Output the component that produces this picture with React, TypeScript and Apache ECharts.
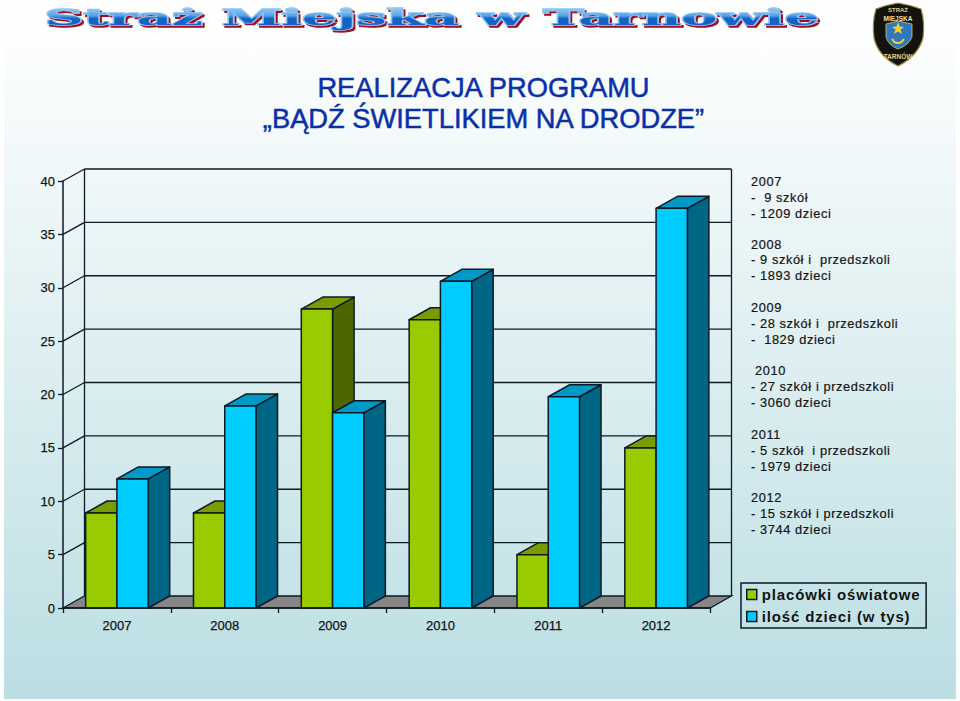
import React, { useEffect, useRef } from "react";
import * as echarts from "echarts";

const years = ["2007", "2008", "2009", "2010", "2011", "2012"];
const schools = [8.9, 8.9, 28, 27, 5, 15];
const children = [12.09, 18.93, 18.29, 30.6, 19.79, 37.44];
const yTicks = [0, 5, 10, 15, 20, 25, 30, 35, 40];
const seriesNames = ["placówki oświatowe", "ilość dzieci (w tys)"];
const titleLines = ["REALIZACJA PROGRAMU", "„BĄDŹ ŚWIETLIKIEM NA DRODZE”"];
const bannerText = "Straż Miejska w Tarnowie";
const noteLines: [string, number, number][] = [
  ["2007", 751, 181], ["-  9 szkół", 751, 197], ["- 1209 dzieci", 751, 213],
  ["2008", 751, 244], ["- 9 szkół i  przedszkoli", 751, 259], ["- 1893 dzieci", 751, 275],
  ["2009", 751, 307], ["- 28 szkół i  przedszkoli", 751, 323], ["-  1829 dzieci", 751, 339],
  ["2010", 755, 370], ["- 27 szkół i przedszkoli", 751, 386], ["- 3060 dzieci", 751, 402],
  ["2011", 751, 434], ["- 5 szkół  i przedszkoli", 751, 450], ["- 1979 dzieci", 751, 466],
  ["2012", 751, 497], ["- 15 szkół i przedszkoli", 751, 513], ["- 3744 dzieci", 751, 529],
];

const DX = 21.5;
const DY = 12;
const INK = "#0c1a26";
const SANS = "'Liberation Sans', Arial, sans-serif";
const LABEL = "#141414";

const palette = [
  { front: "#99cc00", top: "#7a9c00", side: "#4d6600" },
  { front: "#00ccff", top: "#0099c6", side: "#006685" },
];

echarts.graphic.registerShape(
  "badge",
  echarts.graphic.extendPath("M876 9 Q886 5 898 3 Q910 5 921 9 Q925 22 923 38 Q918 56 898 66 Q878 56 874 38 Q872 22 876 9 Z", {})
);
echarts.graphic.registerShape(
  "crest",
  echarts.graphic.extendPath("M886 24 L898 21 L912 24 L912 37 Q909 45 898 49 Q888 45 886 37 Z", {})
);

function barRenderer(seriesIndex: number) {
  return (_params: any, api: any) => {
    const cat = api.value(0);
    const val = api.value(1);
    const band = api.size([1, 0])[0];
    const barW = band * 0.29;
    const base = api.coord([cat, 0]);
    const top = api.coord([cat, val]);
    const x0 = base[0] - barW + seriesIndex * barW;
    const x1 = x0 + barW;
    const y0 = base[1];
    const y1 = top[1];
    const c = palette[seriesIndex];
    const stroke = { stroke: INK, lineWidth: 1.5, lineJoin: "round" };
    return {
      type: "group",
      children: [
        { type: "polygon", shape: { points: [[x1, y1], [x1 + DX, y1 - DY], [x1 + DX, y0 - DY], [x1, y0]] }, style: { fill: c.side, ...stroke } },
        { type: "polygon", shape: { points: [[x0, y1], [x0 + DX, y1 - DY], [x1 + DX, y1 - DY], [x1, y1]] }, style: { fill: c.top, ...stroke } },
        { type: "rect", shape: { x: x0, y: y1, width: barW, height: y0 - y1 }, style: { fill: c.front, ...stroke } },
      ],
    };
  };
}

function wallRenderer(params: any, api: any) {
  const t = api.value(1);
  const cs = params.coordSys;
  const left = cs.x;
  const right = cs.x + cs.width;
  const y = api.coord([0, t])[1];
  const line = { stroke: INK, lineWidth: 1.3, fill: "none" };
  const children: any[] = [];
  if (t === 0) {
    children.push({
      type: "polygon",
      shape: { points: [[left, y], [left + DX, y - DY], [right + DX, y - DY], [right, y]] },
      style: { fill: "#868686", stroke: INK, lineWidth: 1.3 },
    });
    children.push({ type: "line", shape: { x1: left + DX, y1: y - DY, x2: left + DX, y2: cs.y - DY }, style: line });
    children.push({ type: "line", shape: { x1: right + DX, y1: y - DY, x2: right + DX, y2: cs.y - DY }, style: line });
  } else {
    children.push({ type: "line", shape: { x1: left, y1: y, x2: left + DX, y2: y - DY }, style: line });
    children.push({ type: "line", shape: { x1: left + DX, y1: y - DY, x2: right + DX, y2: y - DY }, style: line });
  }
  return { type: "group", children };
}

export default function App() {
  const ref = useRef<HTMLDivElement>(null);
  useEffect(() => {
    document.body.style.margin = "0";
    const chart = echarts.init(ref.current!, undefined, { renderer: "svg" });
    const wallData = yTicks.map((t) => [0, t]);
    chart.setOption({
      animation: false,
      backgroundColor: "#ffffff",
      textStyle: { fontFamily: SANS },
      title: {
        text: titleLines.join("\n"),
        left: 478.5,
        top: 66.5,
        textAlign: "center",
        textStyle: {
          fontFamily: SANS,
          fontSize: 27.3,
          fontWeight: "normal",
          color: "#0a30a8",
          lineHeight: 31,
          textBorderColor: "#0a30a8",
          textBorderWidth: 0.5,
        },
      },
      grid: { left: 63, top: 181, width: 647, height: 427 },
      xAxis: {
        type: "category",
        data: years,
        axisLine: { lineStyle: { color: INK, width: 1.5 } },
        axisTick: { show: true, length: 5, alignWithLabel: false, lineStyle: { color: INK, width: 1.3 } },
        axisLabel: { color: LABEL, fontSize: 13, margin: 11, textBorderColor: LABEL, textBorderWidth: 0.25 },
        splitLine: { show: false },
        z: 5,
      },
      yAxis: {
        type: "value",
        min: 0,
        max: 40,
        interval: 5,
        axisLine: { show: true, lineStyle: { color: INK, width: 1.5 } },
        axisTick: { show: true, length: 5, lineStyle: { color: INK, width: 1.3 } },
        axisLabel: { color: LABEL, fontSize: 13, margin: 8, textBorderColor: LABEL, textBorderWidth: 0.25 },
        splitLine: { show: false },
        z: 5,
      },
      legend: {
        orient: "vertical",
        left: 741,
        top: 583,
        padding: [4, 21, 4, 5],
        itemGap: 7,
        itemWidth: 10,
        itemHeight: 10,
        icon: "rect",
        selectedMode: false,
        borderColor: INK,
        borderWidth: 1.5,
        data: seriesNames,
        itemStyle: { borderColor: INK, borderWidth: 1.5 },
        textStyle: { fontFamily: SANS, fontSize: 15, fontWeight: "bold", color: LABEL },
      },
      series: [
        { type: "custom", name: "tło", renderItem: wallRenderer, data: wallData, z: 1, silent: true, encode: { x: 0, y: 1 } },
        { type: "custom", name: seriesNames[0], renderItem: barRenderer(0), data: schools.map((v, i) => [i, v]), z: 2, itemStyle: { color: palette[0].front }, encode: { x: 0, y: 1 } },
        { type: "custom", name: seriesNames[1], renderItem: barRenderer(1), data: children.map((v, i) => [i, v]), z: 3, itemStyle: { color: palette[1].front }, encode: { x: 0, y: 1 } },
      ],
      graphic: [
        {
          type: "rect",
          z: -10,
          shape: { x: 4, y: 0, width: 952, height: 699 },
          style: {
            fill: new echarts.graphic.LinearGradient(0, 0, 0, 1, [
              { offset: 0, color: "#ffffff" },
              { offset: 0.06, color: "#fdfefe" },
              { offset: 1, color: "#bbdee3" },
            ]),
          },
        },
        {
          type: "text",
          x: 44.5,
          y: 6.5,
          scaleX: 2.46,
          z: 10,
          style: {
            text: bannerText,
            font: "bold 22px 'DejaVu Serif', serif",
            fill: "url(#bannerFill)",
            stroke: "#8fc6f2",
            lineWidth: 1.4,
            textShadowColor: "#a01020",
            textShadowOffsetX: 2,
            textShadowOffsetY: 2,
            textShadowBlur: 0.1,
          },
        },
        { type: "badge", z: 10, style: { fill: "#14120e", stroke: "#a08a3c", lineWidth: 1.2 } },
        { type: "crest", z: 11, style: { fill: "#2f78bd", stroke: "#d8c860", lineWidth: 0.8 } },
        {
          type: "polygon", z: 12,
          shape: { points: [[898, 22], [899.5, 26.5], [904, 27], [900.5, 29.5], [902, 34], [898, 31.5], [894, 34], [895.5, 29.5], [892, 27], [896.5, 26.5]] },
          style: { fill: "#f2d22e" },
        },
        {
          type: "arc", z: 12,
          shape: { cx: 898, cy: 37, r: 6, startAngle: 0.3, endAngle: Math.PI - 0.3, clockwise: true },
          style: { stroke: "#f2d22e", lineWidth: 2, fill: "none" },
        },
        { type: "text", z: 12, x: 898, y: 10, style: { text: "STRAŻ", font: "bold 6px 'Liberation Sans'", fill: "#e0d488", align: "center", verticalAlign: "middle" } },
        { type: "text", z: 12, x: 898, y: 18, style: { text: "MIEJSKA", font: "bold 6.5px 'Liberation Sans'", fill: "#e8e0b0", align: "center", verticalAlign: "middle" } },
        { type: "text", z: 12, x: 898, y: 56, style: { text: "TARNÓW", font: "bold 6.5px 'Liberation Sans'", fill: "#e0d488", align: "center", verticalAlign: "middle" } },
        ...noteLines.map(([text, x, y]) => ({
          type: "text",
          x,
          y,
          z: 10,
          style: { text, font: `12.8px ${SANS}`, fill: LABEL, stroke: LABEL, lineWidth: 0.2, verticalAlign: "middle" },
        })),
      ],
    });
    return () => chart.dispose();
  }, []);
  return (
    <>
      <style>{`
        svg text[style*="12.8px"] { letter-spacing: 0.6px; }
        svg text[style*="15px"] { letter-spacing: 0.85px; }
      `}</style>
      <svg width="0" height="0" style={{ position: "absolute" }}>
        <defs>
          <linearGradient id="bannerFill" x1="0" y1="0" x2="0" y2="1">
            <stop offset="0" stopColor="#b4dcf8" />
            <stop offset="0.42" stopColor="#5aa4e6" />
            <stop offset="0.55" stopColor="#1262c4" />
            <stop offset="1" stopColor="#1262c4" />
          </linearGradient>
        </defs>
      </svg>
      <div ref={ref} style={{ position: "absolute", left: 0, top: 0, width: 960, height: 701 }} />
    </>
  );
}
